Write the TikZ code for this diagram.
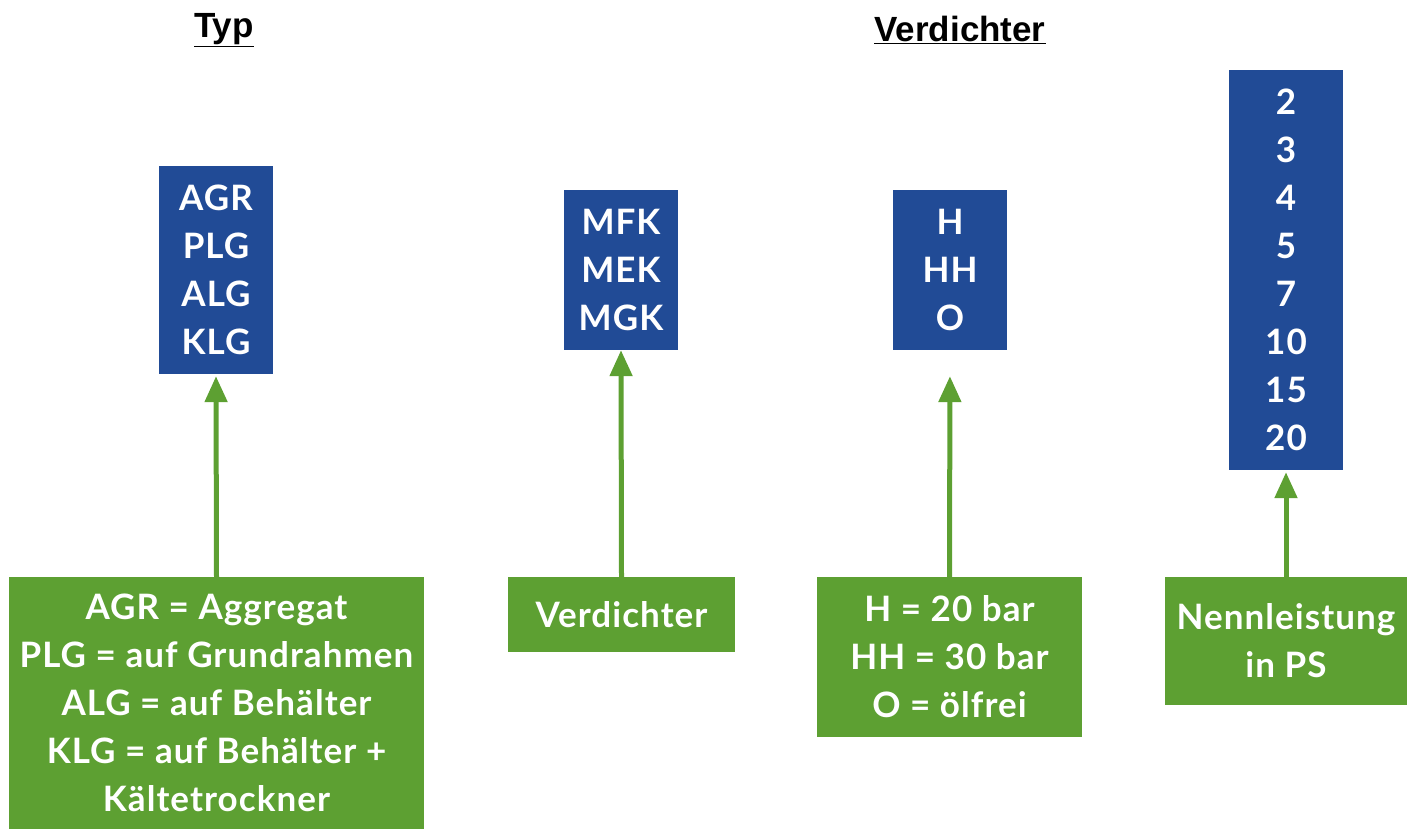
\documentclass[tikz,border=0pt]{standalone}
\usepackage{fontspec}
\setmainfont{Lato}[LetterSpace=3]
\newfontfamily\titlefont{Liberation Sans}
\usetikzlibrary{arrows.meta}
\definecolor{boxblue}{RGB}{33,75,150}
\definecolor{boxgreen}{RGB}{93,160,50}
\begin{document}
\begin{tikzpicture}[x=1pt,y=-1pt,
  bluebox/.style={fill=boxblue,text=white,inner sep=0pt,align=center,
    font=\bfseries\fontsize{35}{48}\selectfont},
  greenbox/.style={fill=boxgreen,text=white,inner sep=0pt,align=center,
    font=\bfseries\fontsize{35}{48}\selectfont},
  arr/.style={draw=boxgreen,line width=5pt,-{Triangle[width=22pt,length=26pt]}},
  title/.style={font=\titlefont\bfseries\fontsize{35}{40}\selectfont}]
\useasboundingbox (0,0) rectangle (1413,829);
\node[title] (t1) at (224,30) {\underline{Typ}};
\node[title] (t2) at (960,30) {\underline{Verdichter}};
\node[bluebox,minimum width=114pt,minimum height=208pt] (b1) at (216,270) {AGR\\PLG\\ALG\\KLG};
\node[bluebox,minimum width=114pt,minimum height=160pt] (b2) at (621,270) {MFK\\MEK\\MGK};
\node[bluebox,minimum width=114pt,minimum height=160pt] (b3) at (950,270) {H\\HH\\O};
\node[bluebox,minimum width=114pt,minimum height=400pt] (b4) at (1286,270) {2\\3\\4\\5\\7\\10\\15\\20};
\node[greenbox,minimum width=415pt,minimum height=252pt] (g1) at (216.5,703) {AGR = Aggregat\\PLG = auf Grundrahmen\\ALG = auf Behälter\\KLG = auf Behälter +\\Kältetrockner};
\node[greenbox,minimum width=227pt,minimum height=75pt] (g2) at (621.5,614.5) {Verdichter};
\node[greenbox,minimum width=265pt,minimum height=160pt] (g3) at (949.5,657) {H = 20 bar\\HH = 30 bar\\O = ölfrei};
\node[greenbox,minimum width=242pt,minimum height=128pt] (g4) at (1286,641) {Nennleistung\\in PS};
\draw[arr,shorten >=2pt] (g1.north) -- (b1.south);
\draw[arr] (g2.north) -- (b2.south);
\draw[arr,shorten >=26pt] (g3.north) -- (b3.south);
\draw[arr,shorten >=2pt] (g4.north) -- (b4.south);
\end{tikzpicture}
\end{document}
